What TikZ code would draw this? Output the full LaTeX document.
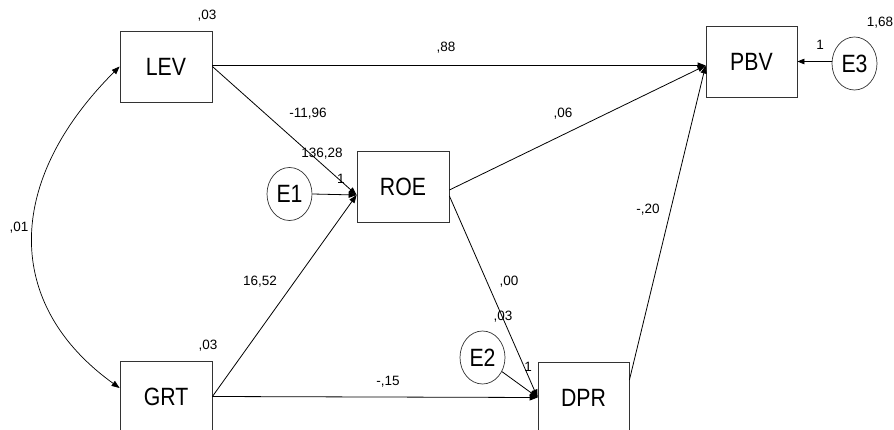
\documentclass[tikz,border=0pt]{standalone}
\usepackage{fontspec}
\setmainfont{Liberation Sans}
\newfontfamily\boxfont[FakeStretch=0.85]{Liberation Sans}
\usetikzlibrary{arrows.meta,shapes.geometric,calc}
\begin{document}
\begin{tikzpicture}[x=1pt,y=-1pt,
  var/.style={draw=black!80,line width=0.8pt,minimum width=92pt,minimum height=71pt,inner sep=0pt,
    font=\boxfont\fontsize{25}{30}\selectfont},
  err/.style={draw=black!80,line width=0.7pt,ellipse,minimum width=45pt,minimum height=53pt,inner sep=0pt,
    font=\boxfont\fontsize{25}{30}\selectfont},
  lab/.style={font=\fontsize{13.5}{15}\selectfont,inner sep=0pt},
  path/.style={draw=black,line width=0.8pt,-{Triangle[length=8pt,width=6pt]}},
  ]
\useasboundingbox (0,0) rectangle (894,430);
% variables
\node[var] (LEV) at (166,66.5) {LEV};
\node[var] (ROE) at (403,186.5) {ROE};
\node[var] (GRT) at (166,396.5) {GRT};
\node[var,minimum width=91pt] (DPR) at (583.5,397.5) {DPR};
\node[var,minimum width=91pt] (PBV) at (751.5,61.5) {PBV};
\node[err] (E1) at (289.5,194) {E1};
\node[err] (E2) at (482.5,357.5) {E2};
\node[err] (E3) at (854.5,63.5) {E3};
% anchor points
\coordinate (ROEin) at ($(ROE.west)+(0,8.5)$);
\coordinate (PBVin) at ($(PBV.west)+(0,4)$);
\coordinate (DPRin) at (DPR.west);
\coordinate (DPRout) at ($(DPR.east)+(0,-17.5)$);
\coordinate (ROEout1) at ($(ROE.east)+(0,3.5)$);
\coordinate (ROEout2) at ($(ROE.east)+(0,9.5)$);
\coordinate (GRTtop) at ($(GRT.west)+(0,-8.5)$);
% connectors
\draw[path] (LEV.east |- PBVin) -- (PBVin);
\draw[path] (LEV.east) -- (ROEin);
\draw[path] (GRT.east) -- (ROEin);
\draw[path] (E1.east) -- (ROEin);
\draw[path] (ROEout1) -- (PBVin);
\draw[path] (ROEout2) -- (DPRin);
\draw[path] (GRT.east) -- (DPRin);
\draw[path] (E2) -- (DPRin);
\draw[path] (DPRout) -- (PBVin);
\draw[path,line width=0.7pt,-{Triangle[length=7pt,width=5.5pt]}] (E3.west |- PBV.east) -- (PBV.east);
\draw[line width=0.7pt,{Triangle[length=8pt,width=6pt]}-{Triangle[length=8pt,width=6pt]}]
  (LEV.west) .. controls (4,182) and (4,305) .. (GRTtop);
% labels
\node[lab] (l1) at (207,16) {,03};
\node[lab] (l2) at (208,346) {,03};
\node[lab] (l3) at (19,228) {,01};
\node[lab] (l4) at (308,114) {-11,96};
\node[lab] (l5) at (322,154) {136,28};
\node[lab] (l6) at (341,179) {1};
\node[lab] (l7) at (260,282) {16,52};
\node[lab] (l8) at (446,48) {,88};
\node[lab] (l9) at (563,114) {,06};
\node[lab] (l10) at (388,382) {-,15};
\node[lab] (l11) at (509,282) {,00};
\node[lab] (l12) at (503,317) {,03};
\node[lab] (l13) at (528,367) {1};
\node[lab] (l14) at (648,210) {-,20};
\node[lab] (l15) at (820,45) {1};
\node[lab] (l16) at (880,23) {1,68};
\end{tikzpicture}
\end{document}
